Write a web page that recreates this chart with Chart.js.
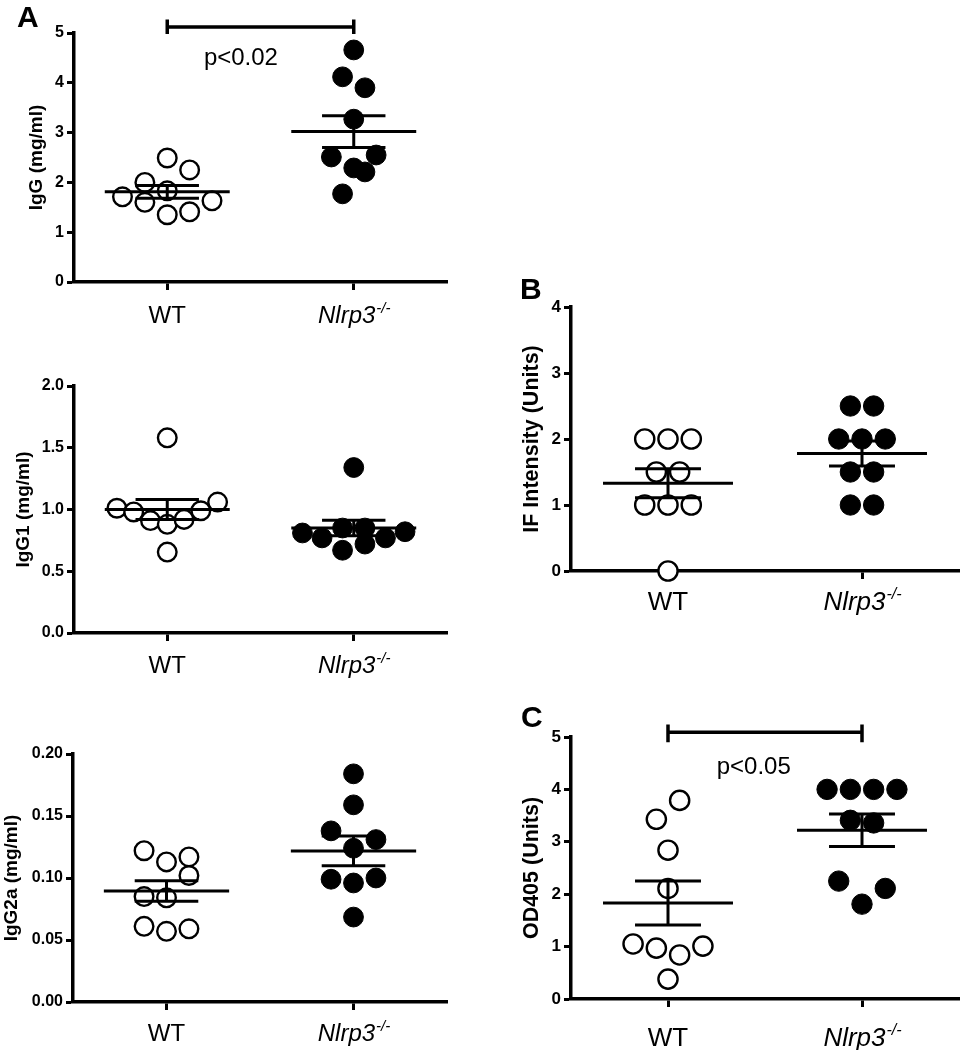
<!DOCTYPE html>
<html>
<head>
<meta charset="utf-8">
<title>Serum IgG, IF intensity and OD405 – WT vs Nlrp3-/-</title>
<script src="https://cdn.jsdelivr.net/npm/chart.js@4.4.1/dist/chart.umd.min.js"></script>
<style>
    html, body { margin: 0; padding: 0; background: #fff; }
    #figure { position: relative; width: 971px; height: 1050px; overflow: hidden; }
    #figure canvas { position: absolute; left: 0; top: 0; width: 971px; height: 1050px; }
</style>
</head>
<body>
<div id="figure">
    <canvas id="panel-igg"   width="971" height="1050"></canvas>
    <canvas id="panel-igg1"  width="971" height="1050"></canvas>
    <canvas id="panel-igg2a" width="971" height="1050"></canvas>
    <canvas id="panel-if"    width="971" height="1050"></canvas>
    <canvas id="panel-od"    width="971" height="1050"></canvas>
</div>
<script>
(function () {
    // ---------- values ----------
    const groupNames = ['WT', 'Nlrp3'];
    const koSuffix   = '-/-';

    // A (top) – total IgG, mg/ml
    const iggWt        = [2.49, 2.25, 2.00, 1.83, 1.71, 1.60, 1.63, 1.35, 1.41];
    const iggWtJitter  = [0, 0.12, -0.12, 0, -0.24, -0.12, 0.24, 0, 0.12];
    const iggKo        = [4.66, 4.12, 3.90, 3.27, 2.51, 2.55, 2.29, 2.21, 1.77];
    const iggKoJitter  = [0, -0.06, 0.06, 0, -0.12, 0.12, 0, 0.06, -0.06];
    const iggMean      = [1.81, 3.02];
    const iggSem       = [0.13, 0.32];
    const iggTicks     = [0, 1, 2, 3, 4, 5];
    const iggTickLabels = ['0', '1', '2', '3', '4', '5'];

    // A (middle) – IgG1, mg/ml
    const igg1Wt        = [1.58, 1.01, 0.98, 0.91, 0.88, 0.92, 0.99, 1.06, 0.655];
    const igg1WtJitter  = [0, -0.27, -0.18, -0.09, 0, 0.09, 0.18, 0.27, 0];
    const igg1Ko        = [1.34, 0.81, 0.77, 0.85, 0.85, 0.77, 0.82, 0.67, 0.72];
    const igg1KoJitter  = [0, -0.275, -0.17, -0.06, 0.06, 0.17, 0.275, -0.06, 0.06];
    const igg1Mean      = [1.00, 0.85];
    const igg1Sem       = [0.08, 0.062];
    const igg1Ticks     = [0, 0.5, 1, 1.5, 2];
    const igg1TickLabels = ['0.0', '0.5', '1.0', '1.5', '2.0'];

    // A (bottom) – IgG2a, mg/ml
    const igg2aWt        = [0.122, 0.113, 0.117, 0.102, 0.085, 0.084, 0.061, 0.057, 0.059];
    const igg2aWtJitter  = [-0.12, 0, 0.12, 0.12, -0.12, 0, -0.12, 0, 0.12];
    const igg2aKo        = [0.184, 0.159, 0.138, 0.131, 0.124, 0.099, 0.096, 0.100, 0.0685];
    const igg2aKoJitter  = [0, 0, -0.12, 0.12, 0, -0.12, 0, 0.12, 0];
    const igg2aMean      = [0.0895, 0.1218];
    const igg2aSem       = [0.0083, 0.012];
    const igg2aTicks     = [0, 0.05, 0.10, 0.15, 0.20];
    const igg2aTickLabels = ['0.00', '0.05', '0.10', '0.15', '0.20'];

    // B – IF intensity, units
    const ifWt        = [2, 2, 2, 1.5, 1.5, 1, 1, 1, 0];
    const ifWtJitter  = [-0.12, 0, 0.12, -0.06, 0.06, -0.12, 0, 0.12, 0];
    const ifKo        = [2.5, 2.5, 2, 2, 2, 1.5, 1.5, 1, 1];
    const ifKoJitter  = [-0.06, 0.06, -0.12, 0, 0.12, -0.06, 0.06, -0.06, 0.06];
    const ifMean      = [1.33, 1.78];
    const ifSem       = [0.22, 0.19];
    const ifTicks     = [0, 1, 2, 3, 4];
    const ifTickLabels = ['0', '1', '2', '3', '4'];

    // C – OD405, units
    const odWt        = [3.79, 3.43, 2.84, 2.11, 1.05, 0.97, 0.84, 1.01, 0.38];
    const odWtJitter  = [0.06, -0.06, 0, 0, -0.18, -0.06, 0.06, 0.18, 0];
    const odKo        = [4, 4, 4, 4, 3.41, 3.36, 2.25, 2.11, 1.81];
    const odKoJitter  = [-0.18, -0.06, 0.06, 0.18, -0.06, 0.06, -0.12, 0.12, 0];
    const odMean      = [1.83, 3.22];
    const odSem       = [0.42, 0.31];
    const odTicks     = [0, 1, 2, 3, 4, 5];
    const odTickLabels = ['0', '1', '2', '3', '4', '5'];

    // ---------- drawing ----------
    const PAGE_W    = 971;
    const PAGE_H    = 1050;
    const X_AXIS_H  = 12;
    const MEAN_HALF = 0.335;
    const CAP_HALF  = 0.17;
    const FONT      = '"Liberation Sans", Arial, Helvetica, sans-serif';

    Chart.defaults.font.family = FONT;
    Chart.defaults.color = '#000';

    function errorBarSets(means, sems) {
        const sets = [];
        means.forEach((m, g) => {
            const s = sems[g];
            const segs = [
                [[g - MEAN_HALF, m],     [g + MEAN_HALF, m]],
                [[g - CAP_HALF,  m + s], [g + CAP_HALF,  m + s]],
                [[g - CAP_HALF,  m - s], [g + CAP_HALF,  m - s]],
                [[g, m - s], [g, m + s]],
            ];
            segs.forEach(seg => sets.push({
                data: seg.map(([x, y]) => ({ x, y })),
                showLine: true,
                pointRadius: 0,
                borderColor: '#000',
                borderWidth: 3,
                clip: false,
                order: 0,
            }));
        });
        return sets;
    }

    function pointSet(values, jitter, g, filled, radius) {
        return {
            data: values.map((v, i) => ({ x: g + jitter[i], y: v })),
            pointRadius: radius,
            pointHoverRadius: radius,
            pointBackgroundColor: filled ? '#000' : '#fff',
            pointBorderColor: '#000',
            pointBorderWidth: filled ? 1 : 2.4,
            showLine: false,
            clip: false,
            order: 1,
        };
    }

    // group labels, panel letter, significance bracket
    const panelDecor = {
        id: 'panelDecor',
        afterDraw(chart, args, opts) {
            const ctx = chart.ctx;
            const xs  = chart.scales.x;
            const ys  = chart.scales.y;
            ctx.save();
            ctx.fillStyle   = '#000';
            ctx.strokeStyle = '#000';
            ctx.textBaseline = 'alphabetic';

            const baseY = chart.chartArea.bottom + opts.labelGap;
            ctx.textAlign = 'center';
            ctx.font = `${opts.labelSize}px ${FONT}`;
            ctx.fillText(groupNames[0], xs.getPixelForValue(0), baseY);

            const mainFont = `italic ${opts.labelSize}px ${FONT}`;
            const supFont  = `italic ${Math.round(opts.labelSize * 0.62)}px ${FONT}`;
            ctx.font = mainFont;
            const w1 = ctx.measureText(groupNames[1]).width;
            ctx.font = supFont;
            const w2 = ctx.measureText(koSuffix).width;
            const x0 = xs.getPixelForValue(1) - (w1 + w2) / 2;
            ctx.textAlign = 'left';
            ctx.font = mainFont;
            ctx.fillText(groupNames[1], x0, baseY);
            ctx.font = supFont;
            ctx.fillText(koSuffix, x0 + w1 + 1, baseY - opts.labelSize * 0.42);

            if (opts.letter) {
                ctx.font = `bold 30px ${FONT}`;
                ctx.fillText(opts.letter.text, opts.letter.x, opts.letter.y);
            }

            if (opts.bracket) {
                const b  = opts.bracket;
                const xa = xs.getPixelForValue(0);
                const xb = xs.getPixelForValue(1);
                const yl = ys.getPixelForValue(b.y);
                ctx.lineWidth = 3.5;
                ctx.beginPath();
                ctx.moveTo(xa, yl); ctx.lineTo(xb, yl);
                ctx.moveTo(xa, ys.getPixelForValue(b.lo)); ctx.lineTo(xa, ys.getPixelForValue(b.hi));
                ctx.moveTo(xb, ys.getPixelForValue(b.lo)); ctx.lineTo(xb, ys.getPixelForValue(b.hi));
                ctx.stroke();

                ctx.textAlign = 'center';
                ctx.font = `24px ${FONT}`;
                ctx.fillText(opts.pText.text, xs.getPixelForValue(opts.pText.x), ys.getPixelForValue(opts.pText.y));
            }
            ctx.restore();
        },
    };

    function makePanel(id, p) {
        const padLeft = p.titleX - p.titleSize * 0.6;
        const yWidth  = p.box.left - padLeft;
        return new Chart(document.getElementById(id), {
            type: 'scatter',
            data: {
                datasets: [
                    ...errorBarSets(p.mean, p.sem),
                    pointSet(p.wt, p.wtJitter, 0, false, p.dot),
                    pointSet(p.ko, p.koJitter, 1, true, p.dot + 0.6),
                ],
            },
            options: {
                responsive: false,
                animation: false,
                events: [],
                layout: {
                    padding: {
                        left: padLeft,
                        top: p.box.top,
                        right: PAGE_W - p.box.right,
                        bottom: PAGE_H - p.box.bottom - X_AXIS_H,
                    },
                },
                plugins: {
                    legend:  { display: false },
                    tooltip: { enabled: false },
                    panelDecor: p.decor,
                },
                scales: {
                    x: {
                        type: 'linear',
                        min: -0.5,
                        max: 1.5,
                        afterBuildTicks: s => { s.ticks = groupNames.map((_, i) => ({ value: i })); },
                        afterFit: s => { s.height = X_AXIS_H; },
                        ticks:  { callback: () => '', padding: 0 },
                        grid:   { drawOnChartArea: false, drawTicks: true, tickLength: 8, tickWidth: 3, tickColor: '#000' },
                        border: { display: true, color: '#000', width: 3.5 },
                    },
                    y: {
                        type: 'linear',
                        min: p.yTicks[0],
                        max: p.yTicks[p.yTicks.length - 1],
                        afterBuildTicks: s => { s.ticks = p.yTicks.map(v => ({ value: v })); },
                        afterFit: s => { s.width = yWidth; },
                        ticks:  { callback: (v, i) => p.yTickLabels[i], font: { size: p.tickSize, weight: 'bold' }, padding: 3, color: '#000' },
                        grid:   { drawOnChartArea: false, drawTicks: true, tickLength: 7, tickWidth: 3, tickColor: '#000' },
                        border: { display: true, color: '#000', width: 3.5 },
                        title:  { display: true, text: p.yTitle, font: { size: p.titleSize, weight: 'bold' }, padding: 0, color: '#000' },
                    },
                },
            },
            plugins: [panelDecor],
        });
    }

    makePanel('panel-igg', {
        box: { left: 74, top: 33, right: 447, bottom: 282 },
        titleX: 37, titleSize: 19, tickSize: 16, dot: 9.3,
        yTitle: 'IgG (mg/ml)', yTicks: iggTicks, yTickLabels: iggTickLabels,
        wt: iggWt, wtJitter: iggWtJitter, ko: iggKo, koJitter: iggKoJitter,
        mean: iggMean, sem: iggSem,
        decor: {
            labelGap: 41, labelSize: 24,
            letter: { text: 'A', x: 17, y: 27 },
            bracket: { y: 5.12, lo: 4.98, hi: 5.27 },
            pText: { text: 'p<0.02', x: 0.395, y: 4.36 },
        },
    });

    makePanel('panel-igg1', {
        box: { left: 74, top: 386, right: 447, bottom: 633 },
        titleX: 23.5, titleSize: 19, tickSize: 16, dot: 9.3,
        yTitle: 'IgG1 (mg/ml)', yTicks: igg1Ticks, yTickLabels: igg1TickLabels,
        wt: igg1Wt, wtJitter: igg1WtJitter, ko: igg1Ko, koJitter: igg1KoJitter,
        mean: igg1Mean, sem: igg1Sem,
        decor: { labelGap: 40, labelSize: 24 },
    });

    makePanel('panel-igg2a', {
        box: { left: 73, top: 754, right: 447, bottom: 1002 },
        titleX: 12, titleSize: 19, tickSize: 16, dot: 9.3,
        yTitle: 'IgG2a (mg/ml)', yTicks: igg2aTicks, yTickLabels: igg2aTickLabels,
        wt: igg2aWt, wtJitter: igg2aWtJitter, ko: igg2aKo, koJitter: igg2aKoJitter,
        mean: igg2aMean, sem: igg2aSem,
        decor: { labelGap: 39, labelSize: 24 },
    });

    makePanel('panel-if', {
        box: { left: 571, top: 307, right: 967, bottom: 571 },
        titleX: 532.5, titleSize: 21.5, tickSize: 17, dot: 9.6,
        yTitle: 'IF Intensity (Units)', yTicks: ifTicks, yTickLabels: ifTickLabels,
        wt: ifWt, wtJitter: ifWtJitter, ko: ifKo, koJitter: ifKoJitter,
        mean: ifMean, sem: ifSem,
        decor: {
            labelGap: 39, labelSize: 26,
            letter: { text: 'B', x: 520, y: 299 },
        },
    });

    makePanel('panel-od', {
        box: { left: 571, top: 737, right: 967, bottom: 999 },
        titleX: 532, titleSize: 21.5, tickSize: 17, dot: 9.6,
        yTitle: 'OD405 (Units)', yTicks: odTicks, yTickLabels: odTickLabels,
        wt: odWt, wtJitter: odWtJitter, ko: odKo, koJitter: odKoJitter,
        mean: odMean, sem: odSem,
        decor: {
            labelGap: 47, labelSize: 26,
            letter: { text: 'C', x: 521, y: 727 },
            bracket: { y: 5.09, lo: 4.9, hi: 5.24 },
            pText: { text: 'p<0.05', x: 0.442, y: 4.30 },
        },
    });
})();
</script>
</body>
</html>
